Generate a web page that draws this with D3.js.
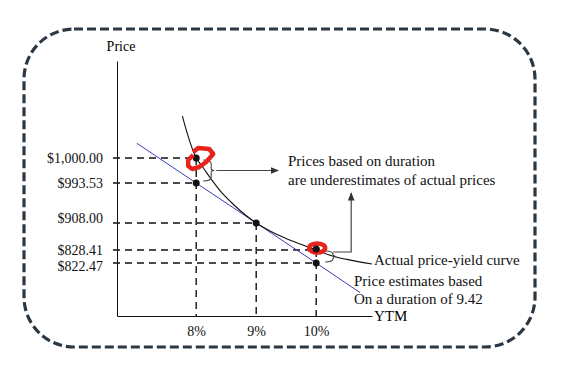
<!DOCTYPE html>
<html>
<head>
<meta charset="utf-8">
<script src="https://cdn.jsdelivr.net/npm/d3@7"></script>
<style>
  body { margin: 0; background: #fff; }
  svg { display: block; font-family: "Liberation Serif", "Times New Roman", serif; }
  .axis text { font-size: 14px; fill: #111; font-family: "Liberation Serif", serif; }
  .axis path, .axis line { stroke: #111; }
</style>
</head>
<body>
<svg></svg>
<script>
var width = 572;
var height = 366;

// yield ticks (%) and price ticks ($)
var ytmTicks = [8, 9, 10];
var ytmLabels = ['8%', '9%', '10%'];
var priceTicks = [1000, 993.53, 908, 828.41, 822.47];
var priceLabels = ['$1,000.00', '$993.53', '$908.00', '$828.41', '$822.47'];

// actual price-yield curve
var curveYtm   = [7.77, 7.85, 7.93, 8.00, 8.12, 8.27, 8.43, 8.63, 8.82, 9.00, 9.23, 9.48, 9.73, 10.00, 10.27, 10.57, 10.93];
var curvePrice = [1010.8, 1006.4, 1002.6, 1000, 997.4, 994.1, 972.2, 946.5, 925.1, 908, 884.4, 863.8, 846.1, 828.41, 825.7, 823.8, 822.0];

// duration (tangent) line
var tangentYtm   = [7.01, 8, 9, 10, 10.73];
var tangentPrice = [1003.8, 993.53, 908, 822.47, 808.8];

// marked points
var dotYtm   = [8, 8, 9, 10, 10];
var dotPrice = [1000, 993.53, 908, 828.41, 822.47];

// axis extents
var ytmMin = 6.68, ytmMax = 10.93;
var priceTop = 1025, priceBottom = 798;

var svg = d3.select('svg')
  .attr('width', width)
  .attr('height', height);

// dashed rounded frame
svg.append('rect')
  .attr('x', 24).attr('y', 29)
  .attr('width', 511).attr('height', 318)
  .attr('rx', 50).attr('ry', 50)
  .attr('fill', 'none')
  .attr('stroke', '#2b3844')
  .attr('stroke-width', 3.2)
  .attr('stroke-dasharray', '9,4');

var xScale = d3.scaleLinear()
  .domain([ytmMin, ytmMax])
  .range([117, 372]);

// schematic (not to scale) price axis: piecewise linear
var yScale = d3.scaleLinear()
  .domain([priceTop].concat(priceTicks, [priceBottom]))
  .range([61, 158, 183, 223, 250, 263, 316]);

var axisY = yScale(priceBottom);
var axisX = xScale(ytmMin);

// dashed guide lines
var dash = '7,5';
var guides = svg.append('g')
  .attr('stroke', '#111')
  .attr('stroke-width', 1.4)
  .attr('stroke-dasharray', dash);

var guideYtm = [8, 8, 9, 10, 10];
priceTicks.forEach(function(p, i){
  guides.append('line')
    .attr('x1', axisX - 4).attr('x2', xScale(guideYtm[i]))
    .attr('y1', yScale(p)).attr('y2', yScale(p));
});
[[8, 1000], [9, 908], [10, 828.41]].forEach(function(d){
  guides.append('line')
    .attr('x1', xScale(d[0])).attr('x2', xScale(d[0]))
    .attr('y1', yScale(d[1])).attr('y2', axisY);
});

// axes
var xAxis = svg.append('g')
  .classed('axis xAxis', true)
  .attr('transform', `translate(0, ${axisY})`)
  .call(d3.axisBottom(xScale)
    .tickValues(ytmTicks)
    .tickSize(0)
    .tickPadding(10)
    .tickFormat(function(d, i){ return ytmLabels[i]; }));

var yAxis = svg.append('g')
  .classed('axis yAxis', true)
  .attr('transform', `translate(${axisX}, 0)`)
  .call(d3.axisLeft(yScale)
    .tickValues(priceTicks)
    .tickSize(0)
    .tickSizeOuter(0)
    .tickPadding(14)
    .tickFormat(function(d, i){ return priceLabels[i]; }));

// nudge two labels like the original
yAxis.selectAll('.tick text')
  .attr('dy', function(d){ return d === 908 ? '-0.05em' : d === 822.47 ? '0.55em' : '0.32em'; });

svg.append('text')
  .attr('x', axisX + 4).attr('y', 51)
  .attr('text-anchor', 'middle')
  .style('font-size', '14px')
  .text('Price');

svg.append('text')
  .attr('x', xScale(ytmMax) + 2).attr('y', axisY + 5)
  .style('font-size', '15px')
  .text('YTM');

// tangent line
var tangent = tangentYtm.map(function(d, i){ return [d, tangentPrice[i]]; });
svg.append('path')
  .datum(tangent)
  .attr('fill', 'none')
  .attr('stroke', '#3a3ab8')
  .attr('stroke-width', 1)
  .attr('d', d3.line()
    .x(function(d){ return xScale(d[0]); })
    .y(function(d){ return yScale(d[1]); }));

// actual curve
var curve = curveYtm.map(function(d, i){ return [d, curvePrice[i]]; });
svg.append('path')
  .datum(curve)
  .attr('fill', 'none')
  .attr('stroke', '#111')
  .attr('stroke-width', 1.1)
  .attr('d', d3.line()
    .curve(d3.curveCatmullRom)
    .x(function(d){ return xScale(d[0]); })
    .y(function(d){ return yScale(d[1]); }));

// braces and arrows
var defs = svg.append('defs');
defs.append('marker')
  .attr('id', 'head')
  .attr('viewBox', '0 0 10 10')
  .attr('refX', 9).attr('refY', 5)
  .attr('markerWidth', 7).attr('markerHeight', 7)
  .attr('orient', 'auto')
  .append('path')
    .attr('d', 'M0,1 L10,5 L0,9 Z')
    .attr('fill', '#333');

function brace(x, top, bot){
  var mid = (top + bot) / 2;
  return `M${x},${top} Q${x + 8},${top} ${x + 8},${top + 4} L${x + 8},${mid - 2} Q${x + 8},${mid} ${x + 11},${mid}` +
         ` Q${x + 8},${mid} ${x + 8},${mid + 2} L${x + 8},${bot - 4} Q${x + 8},${bot} ${x},${bot}`;
}

var x8 = xScale(8), x10 = xScale(10);
var b1Top = yScale(1000) + 2, b1Bot = yScale(993.53) - 2;
svg.append('path')
  .attr('d', brace(x8 + 7, b1Top, b1Bot))
  .attr('fill', 'none').attr('stroke', '#444').attr('stroke-width', 1.1);
svg.append('line')
  .attr('x1', x8 + 20).attr('x2', x8 + 82)
  .attr('y1', (b1Top + b1Bot) / 2).attr('y2', (b1Top + b1Bot) / 2)
  .attr('stroke', '#444').attr('stroke-width', 1.2)
  .attr('marker-end', 'url(#head)');

var b2Top = yScale(828.41) + 1, b2Bot = yScale(822.47) - 1;
svg.append('path')
  .attr('d', brace(x10 + 9, b2Top, b2Bot))
  .attr('fill', 'none').attr('stroke', '#444').attr('stroke-width', 1.1);
svg.append('path')
  .attr('d', `M${x10 + 17},${b2Top + 1} L${x10 + 35},${b2Top + 1} L${x10 + 35},${yScale(1000) + 35}`)
  .attr('fill', 'none').attr('stroke', '#444').attr('stroke-width', 1.2)
  .attr('marker-end', 'url(#head)');

// dots
svg.selectAll('circle.dot')
  .data(dotYtm)
  .enter()
  .append('circle')
    .attr('class', 'dot')
    .attr('cx', function(d){ return xScale(d); })
    .attr('cy', function(d, i){ return yScale(dotPrice[i]); })
    .attr('r', 3.5)
    .attr('fill', '#111');

// red hand-drawn marks
var px = xScale(8), py = yScale(1000);
svg.append('path')
  .attr('d', `M${px - 3},${py - 6} L${px + 2},${py - 10} L${px + 13},${py - 9} L${px + 17},${py - 4} L${px + 10},${py + 4}` +
             ` L${px + 3},${py + 9} L${px - 4},${py + 11} L${px - 8},${py + 8} L${px - 8},${py + 2} L${px - 3},${py - 3}`)
  .attr('fill', 'none')
  .attr('stroke', '#e8221c')
  .attr('stroke-width', 4.5)
  .attr('stroke-linejoin', 'round');

svg.append('ellipse')
  .attr('cx', xScale(10) + 1).attr('cy', yScale(828.41) - 2)
  .attr('rx', 8).attr('ry', 4.5)
  .attr('fill', 'none')
  .attr('stroke', '#e8221c')
  .attr('stroke-width', 4.5);
svg.append('circle')
  .attr('cx', xScale(10)).attr('cy', yScale(828.41) - 1)
  .attr('r', 3.5).attr('fill', '#111');

// annotation text
var notes = svg.append('g').style('font-size', '15px').attr('fill', '#111');
notes.append('text').attr('x', 288).attr('y', 166).text('Prices based on duration');
notes.append('text').attr('x', 288).attr('y', 185).text('are underestimates of actual prices');
notes.append('text').attr('x', 374).attr('y', 265).text('Actual price-yield curve');
notes.append('text').attr('x', 354).attr('y', 286).text('Price estimates based');
notes.append('text').attr('x', 354).attr('y', 304).text('On a duration of 9.42');
</script>
</body>
</html>
